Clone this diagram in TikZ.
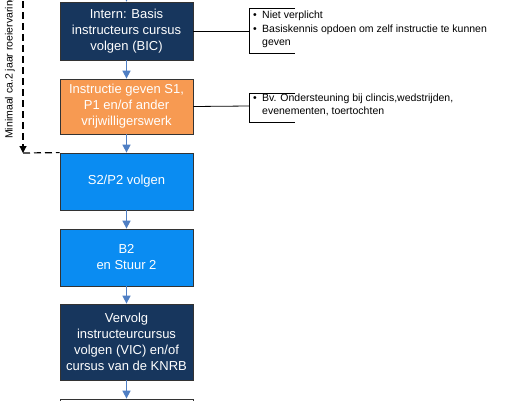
\documentclass[tikz,border=0pt]{standalone}
\usepackage{fontspec}
\setmainfont{Liberation Sans}
\usetikzlibrary{arrows.meta}
\definecolor{navy}{HTML}{17365D}
\definecolor{oranje}{HTML}{F79A52}
\definecolor{helder}{HTML}{0A8CF2}
\definecolor{pijl}{HTML}{4F7FC4}
\tikzset{
	stap/.style={draw=black!80, line width=0.8pt, minimum width=133pt, inner sep=0pt, align=center, text=white, font=\fontsize{13}{16}\selectfont},
	uitleg/.style={anchor=west, inner sep=0pt, align=left, font=\fontsize{10.5}{13.5}\selectfont},
	stip/.style={draw=black, line width=1.2pt, dash pattern=on 7pt off 4pt}
}
\newcommand{\bol}{\makebox[9pt][l]{\textbullet}}
\begin{document}
\begin{tikzpicture}[x=1pt, y=-1pt, >={Triangle[width=8pt,length=8pt]}, every edge/.style={draw=pijl, line width=1.5pt}]
		\useasboundingbox (0,0) rectangle (523,400);
		\clip (0,0) rectangle (523,400);
		\fill[white] (0,0) rectangle (523,400);
		\coordinate (Top) at (126.5,-20);
		\node (BIC) at (126.5,31)  [stap, fill=navy, minimum height=58pt] {Intern: Basis\\instructeurs cursus\\volgen (BIC)} edge [<-] (Top);
		\node (Ins) at (126.5,106.5) [stap, fill=oranje, minimum height=55pt] {Instructie geven S1,\\P1 en/of ander\\vrijwilligerswerk} edge [<-] (BIC);
		\node (SP) at (126.5,181.5) [stap, fill=helder, minimum height=57pt] {S2/P2 volgen} edge [<-] (Ins);
		\node (BS) at (126.5,257.5) [stap, fill=helder, minimum height=57pt] {B2\\en Stuur 2} edge [<-] (SP);
		\node (VIC) at (126.5,342) [stap, fill=navy, minimum height=76pt] {Vervolg\\instructeurcursus\\volgen (VIC) en/of\\cursus van de KNRB} edge [<-] (BS);
		\node (Nxt) at (126.5,428) [stap, fill=white, minimum height=58pt] {} edge [<-] (VIC);
		% toelichting rechts
		\coordinate (Bk1) at (249,31);
		\coordinate (Bk2) at (249,106);
		\draw[line width=0.8pt] (BIC.east) -- (Bk1);
		\draw[line width=0.8pt] (295,8) -- (249,8) -- (249,53) -- (295,53);
		\draw[line width=0.8pt] (Ins.east) -- (Bk2);
		\draw[line width=0.8pt] (295,93) -- (249,93) -- (249,122) -- (295,122);
		\node (T1) at (253,29.5) [uitleg] {\bol Niet verplicht\\\bol Basiskennis opdoen om zelf instructie te kunnen\\\hspace*{9pt}geven};
		\node (T2) at (253,105) [uitleg] {\bol Bv. Ondersteuning bij clincis,wedstrijden,\\\hspace*{9pt}evenementen, toertochten};
		% roeiervaring
		\coordinate (Dtop) at (23,-10);
		\coordinate (Dhoek) at (23,153);
		\draw[stip, -{Triangle[width=7pt,length=7pt]}] (Dtop) -- (Dhoek);
		\draw[stip] (Dhoek) -- (SP.north west);
		\node (Min) at (10,139) [rotate=90, anchor=west, inner sep=0pt, font=\fontsize{10.5}{12}\selectfont] {Minimaal ca.2 jaar roeiervaring};
	\end{tikzpicture}
\end{document}
